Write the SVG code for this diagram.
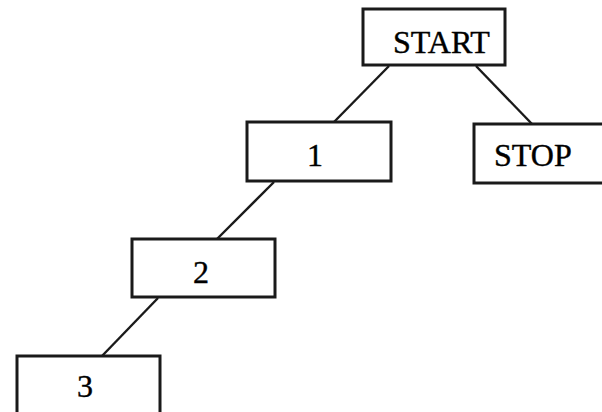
<svg xmlns="http://www.w3.org/2000/svg" width="602" height="412" viewBox="0 0 602 412">
<style>
.box{fill:#fff;stroke:#1a1a1a;stroke-width:3}
.lbl{font-family:"Liberation Serif","Times New Roman",serif;font-size:32px;fill:#000;stroke:#000;stroke-width:0.4}
.edge{stroke:#1a1a1a;stroke-width:2.4;fill:none}
</style>
<rect width="602" height="412" fill="#fff"/>
<g id="connectors">
<line class="edge" x1="389" y1="66" x2="334" y2="122"/>
<line class="edge" x1="476" y1="66" x2="532" y2="124"/>
<line class="edge" x1="274" y1="182" x2="217" y2="239"/>
<line class="edge" x1="158" y1="298" x2="102" y2="356"/>
</g>
<g id="start"><rect class="box" x="363" y="9" width="142" height="56"/><text class="lbl" x="393" y="53">START</text></g>
<g id="stop"><rect class="box" x="474" y="124" width="132" height="59"/><text class="lbl" x="494" y="166">STOP</text></g>
<g id="n1"><rect class="box" x="247" y="122" width="144" height="59"/><text class="lbl" x="315" y="166" text-anchor="middle">1</text></g>
<g id="n2"><rect class="box" x="132" y="239" width="143" height="58"/><text class="lbl" x="201" y="283" text-anchor="middle">2</text></g>
<g id="n3"><rect class="box" x="17" y="356" width="143" height="60"/><text class="lbl" x="85" y="397" text-anchor="middle">3</text></g>
</svg>
